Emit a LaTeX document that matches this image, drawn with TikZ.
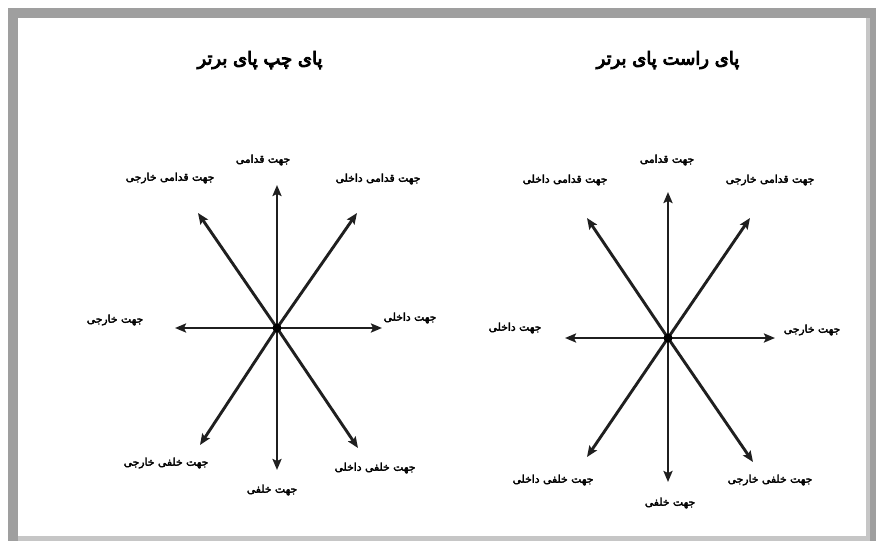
\documentclass[tikz,border=0pt]{standalone}
\usepackage{fontspec}
\newfontfamily\arabicfont[Script=Arabic,FakeBold=3]{DejaVu Sans}
\newfontfamily\arabictitle[Script=Arabic,FakeBold=5]{DejaVu Sans}
\TeXXeTstate=1
\usetikzlibrary{arrows.meta}
\newcommand{\rtltxt}[1]{\beginR #1\endR}
\begin{document}
\begin{tikzpicture}[x=1pt,y=-1pt,
  lbl/.style={font=\arabicfont\fontsize{10.8}{12}\selectfont, inner sep=0pt},
  ttl/.style={font=\arabictitle\fontsize{18}{20}\selectfont, inner sep=0pt},
  arr/.style={-{Stealth[length=11pt,width=9pt,inset=2pt]}, line width=2.9pt, black!88},
  hub/.style={circle, fill=black, inner sep=0pt, minimum size=9pt}]
\useasboundingbox (0,0) rectangle (876,541);
\fill[white] (0,0) rectangle (876,541);
% frame
\fill[gray!75] (8,8) rectangle (876,541);
\fill[gray!45] (18,18) rectangle (870,541);
\fill[white] (18,18) rectangle (866,536);

% titles
\node[ttl] (tL) at (260,60) {\rtltxt{پای چپ پای برتر}};
\node[ttl] (tR) at (668,60) {\rtltxt{پای راست پای برتر}};

% ---------- left diagram ----------
\coordinate (L-n) at (277,185);
\coordinate (L-s) at (277,470);
\coordinate (L-w) at (175,328);
\coordinate (L-e) at (382,328);
\coordinate (L-nw) at (198,213);
\coordinate (L-ne) at (357,213);
\coordinate (L-sw) at (200,445);
\coordinate (L-se) at (358,448);
\coordinate (cLc) at (277,328);
\foreach \d in {n,s,w,e,nw,ne,sw,se} \draw[arr] (cLc) -- (L-\d);
\node[hub] (cL) at (cLc) {};

\node[lbl] (La) at (263,160) {\rtltxt{جهت قدامی}};
\node[lbl] (Lb) at (170,178) {\rtltxt{جهت قدامی خارجی}};
\node[lbl] (Lc) at (378,179) {\rtltxt{جهت قدامی داخلی}};
\node[lbl] (Ld) at (115,320) {\rtltxt{جهت خارجی}};
\node[lbl] (Le) at (410,318) {\rtltxt{جهت داخلی}};
\node[lbl] (Lf) at (166,463) {\rtltxt{جهت خلفی خارجی}};
\node[lbl] (Lg) at (272,490) {\rtltxt{جهت خلفی}};
\node[lbl] (Lh) at (375,468) {\rtltxt{جهت خلفی داخلی}};

% ---------- right diagram ----------
\coordinate (R-n) at (668,192);
\coordinate (R-s) at (668,482);
\coordinate (R-w) at (565,338);
\coordinate (R-e) at (775,338);
\coordinate (R-nw) at (587,218);
\coordinate (R-ne) at (750,218);
\coordinate (R-sw) at (587,457);
\coordinate (R-se) at (753,462);
\coordinate (cRc) at (668,338);
\foreach \d in {n,s,w,e,nw,ne,sw,se} \draw[arr] (cRc) -- (R-\d);
\node[hub] (cR) at (cRc) {};

\node[lbl] (Ra) at (667,160) {\rtltxt{جهت قدامی}};
\node[lbl] (Rb) at (565,180) {\rtltxt{جهت قدامی داخلی}};
\node[lbl] (Rc) at (770,180) {\rtltxt{جهت قدامی خارجی}};
\node[lbl] (Rd) at (515,328) {\rtltxt{جهت داخلی}};
\node[lbl] (Re) at (812,330) {\rtltxt{جهت خارجی}};
\node[lbl] (Rf) at (553,480) {\rtltxt{جهت خلفی داخلی}};
\node[lbl] (Rg) at (670,503) {\rtltxt{جهت خلفی}};
\node[lbl] (Rh) at (770,480) {\rtltxt{جهت خلفی خارجی}};
\end{tikzpicture}
\end{document}
